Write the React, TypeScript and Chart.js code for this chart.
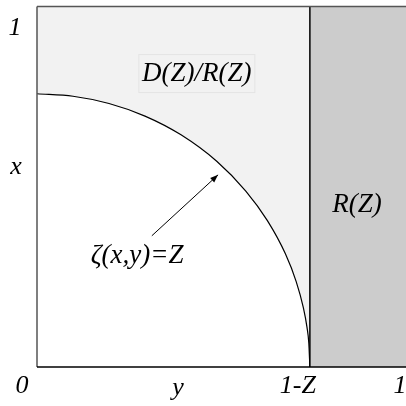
import React, { useEffect, useRef } from "react";
import { Chart, registerables } from "chart.js";

Chart.register(...registerables);

// Z and the plot range
const Z = 0.242;
const X_MAX = 1.025;
// Boundary curve zeta(x,y)=Z
const arcX = [0, 0.1, 0.2, 0.3, 0.4, 0.5, 0.58, 0.64, 0.69, 0.72, 0.74, 0.75, 0.755, 0.758];
const arcY = [0.758, 0.751, 0.731, 0.696, 0.644, 0.57, 0.488, 0.406, 0.314, 0.237, 0.164, 0.11, 0.067, 0];
// Region outlines
const topY = 1;
const bottomY = 0;

const FONT = "italic 26px 'Liberation Serif', 'DejaVu Serif', serif";
const LABEL_FONT = "italic 27px 'Liberation Serif', 'DejaVu Serif', serif";

const annotations = {
  id: "annotations",
  afterDatasetsDraw(chart: any) {
    const { ctx, chartArea, scales } = chart;
    const xs = scales.x;
    const ys = scales.y;
    const px = (v: number) => xs.getPixelForValue(v);
    const py = (v: number) => ys.getPixelForValue(v);
    ctx.save();
    // frame
    ctx.lineWidth = 1.5;
    ctx.strokeStyle = "#555";
    ctx.beginPath();
    ctx.moveTo(chartArea.left, chartArea.top);
    ctx.lineTo(chartArea.right, chartArea.top);
    ctx.moveTo(chartArea.left, chartArea.top);
    ctx.lineTo(chartArea.left, chartArea.bottom);
    ctx.stroke();
    ctx.strokeStyle = "#000";
    ctx.beginPath();
    ctx.moveTo(chartArea.left, chartArea.bottom);
    ctx.lineTo(chartArea.right, chartArea.bottom);
    ctx.stroke();

    // D(Z)/R(Z) box
    const bx = px(0.444), by = py(0.814);
    ctx.strokeStyle = "#e4e4e4";
    ctx.lineWidth = 1;
    ctx.strokeRect(bx - 58, by - 19, 116, 38);

    ctx.fillStyle = "#000";
    ctx.textAlign = "center";
    ctx.textBaseline = "middle";
    ctx.font = LABEL_FONT;
    ctx.fillText("D(Z)/R(Z)", bx, by);
    ctx.fillText("R(Z)", px(0.889), py(0.45));
    ctx.fillText("\u03B6(x,y)=Z", px(0.278), py(0.308));

    // arrow
    const x0 = px(0.319), y0 = py(0.364);
    const x1 = px(0.503), y1 = py(0.533);
    ctx.strokeStyle = "#000";
    ctx.lineWidth = 1;
    ctx.beginPath();
    ctx.moveTo(x0, y0);
    ctx.lineTo(x1, y1);
    ctx.stroke();
    const ang = Math.atan2(y1 - y0, x1 - x0);
    const hl = 8, hw = 3;
    ctx.beginPath();
    ctx.moveTo(x1, y1);
    ctx.lineTo(x1 - hl * Math.cos(ang) + hw * Math.sin(ang), y1 - hl * Math.sin(ang) - hw * Math.cos(ang));
    ctx.lineTo(x1 - hl * Math.cos(ang) - hw * Math.sin(ang), y1 - hl * Math.sin(ang) + hw * Math.cos(ang));
    ctx.closePath();
    ctx.fill();

    // axis labels
    ctx.font = FONT;
    ctx.fillText("1", chartArea.left - 22, py(0.94));
    ctx.fillText("x", chartArea.left - 21, py(0.553));
    ctx.fillText("0", chartArea.left - 15, chartArea.bottom + 19);
    ctx.fillText("y", px(0.392), chartArea.bottom + 21);
    ctx.fillText("1-Z", px(1 - Z) - 12, chartArea.bottom + 19);
    ctx.fillText("1", px(1) + 3, chartArea.bottom + 19);
    ctx.restore();
  },
};

export default function App() {
  const ref = useRef<HTMLCanvasElement | null>(null);
  useEffect(() => {
    if (!ref.current) return;
    const chart = new Chart(ref.current, {
      type: "line",
      data: {
        datasets: [
          {
            label: "boundary",
            data: [
              { x: 1 - Z, y: bottomY },
              { x: 1 - Z, y: topY },
            ],
            borderColor: "#000",
            borderWidth: 1.5,
            pointRadius: 0,
            fill: false,
            order: 1,
          },
          {
            label: "R(Z)",
            data: [
              { x: 1 - Z, y: topY },
              { x: X_MAX, y: topY },
            ],
            borderColor: "rgba(0,0,0,0)",
            borderWidth: 0,
            backgroundColor: "#cccccc",
            pointRadius: 0,
            fill: "origin",
            order: 2,
          },
          {
            label: "zeta",
            data: arcX.map((x, i) => ({ x, y: arcY[i] })),
            borderColor: "#000",
            borderWidth: 1.2,
            backgroundColor: "#ffffff",
            pointRadius: 0,
            fill: "origin",
            cubicInterpolationMode: "monotone",
            order: 3,
          },
          {
            label: "D(Z)/R(Z)",
            data: [
              { x: 0, y: topY },
              { x: 1 - Z, y: topY },
            ],
            borderColor: "rgba(0,0,0,0)",
            borderWidth: 0,
            backgroundColor: "#f2f2f2",
            pointRadius: 0,
            fill: "origin",
            order: 4,
          },
        ],
      },
      options: {
        animation: false,
        responsive: false,
        maintainAspectRatio: false,
        layout: { padding: { left: 37, top: 6.5, right: 0, bottom: 39 } },
        plugins: { legend: { display: false }, tooltip: { enabled: false } },
        scales: {
          x: { type: "linear", min: 0, max: X_MAX, display: false },
          y: { type: "linear", min: 0, max: 1, display: false },
        },
      },
      plugins: [annotations],
    });
    return () => chart.destroy();
  }, []);
  return (
    <div style={{ position: "fixed", left: 0, top: 0, width: 406, height: 406, overflow: "hidden", background: "#fff" }}>
      <canvas ref={ref} width={406} height={406} style={{ width: 406, height: 406 }} />
    </div>
  );
}
